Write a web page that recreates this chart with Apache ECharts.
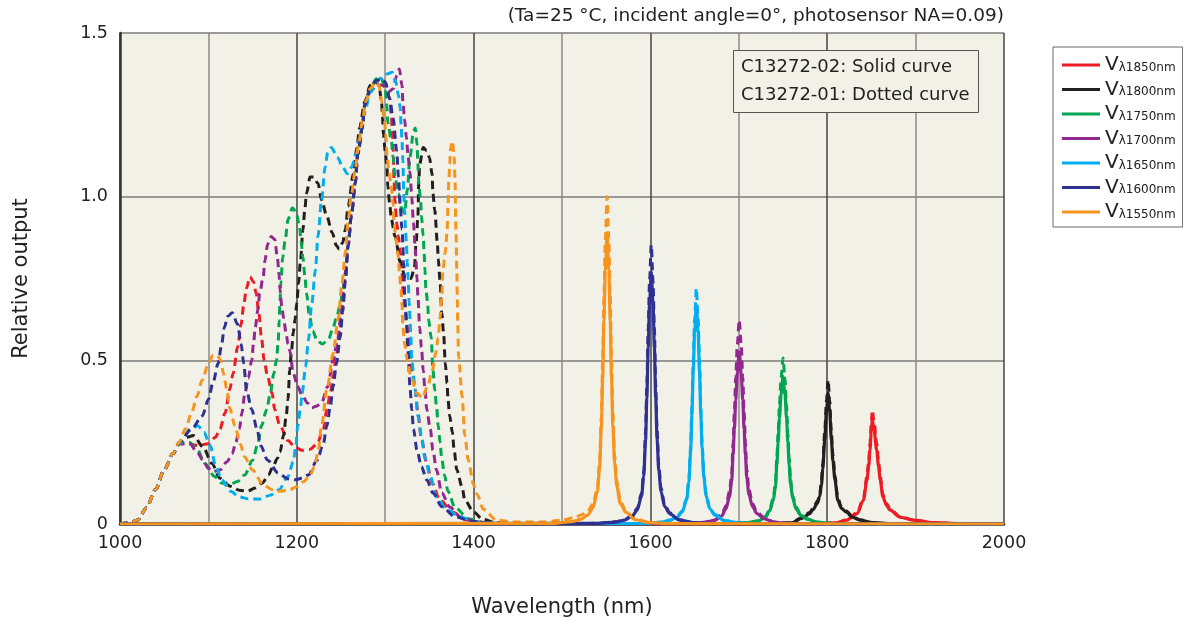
<!DOCTYPE html>
<html>
<head>
<meta charset="utf-8">
<script src="https://cdn.jsdelivr.net/npm/echarts@6/dist/echarts.min.js"></script>
<style>html,body{margin:0;padding:0;background:#fff;}#c{width:1183px;height:625px;}</style>
</head>
<body>
<div id="c"></div>
<script>
const FONT = 'DejaVu Sans';
const names = ['Vλ1850nm','Vλ1800nm','Vλ1750nm','Vλ1700nm','Vλ1650nm','Vλ1600nm','Vλ1550nm'];
const colors = ['#ed1c24','#231f20','#00a651','#92278f','#00aeef','#2e3192','#f7941d'];
const xTicks = [1000,1200,1400,1600,1800,2000];
const yTicks = ['0','0.5','1.0','1.5'];

// C13272-02 (solid curves)
const solid1850 = [[1000,0],[1781,0],[1796,0.001],[1811,0.004],[1822,0.012],[1834,0.032],[1841,0.073],[1845,0.134],[1847,0.178],[1848.4,0.226],[1849.8,0.28],[1851,0.318],[1853,0.286],[1856,0.226],[1858,0.178],[1860,0.134],[1863,0.083],[1867,0.057],[1871,0.043],[1882,0.021],[1897,0.012],[1920,0.004],[1951,0.001],[2000,0]];
const solid1800 = [[1000,0],[1741,0.001],[1759,0.003],[1772,0.018],[1780,0.032],[1784,0.044],[1789,0.064],[1791.6,0.084],[1793.5,0.12],[1795,0.168],[1797.2,0.256],[1799.2,0.344],[1801,0.4],[1802.8,0.344],[1804.7,0.256],[1806.5,0.192],[1808.7,0.136],[1812,0.072],[1816,0.048],[1821.7,0.036],[1829,0.02],[1837,0.012],[1851,0.004],[1871,0.001],[2000,0]];
const solid1750 = [[1000,0],[1690,0.001],[1710,0.004],[1722,0.009],[1730,0.02],[1735,0.041],[1739,0.072],[1741.5,0.113],[1743,0.18],[1744.5,0.248],[1746,0.324],[1747.8,0.396],[1750,0.45],[1752.2,0.396],[1754,0.324],[1755.5,0.248],[1757,0.18],[1758.5,0.122],[1761,0.077],[1765,0.045],[1770,0.027],[1778,0.014],[1790,0.005],[1810,0.001],[2000,0]];
const solid1700 = [[1000,0],[1640.5,0.001],[1660.5,0.004],[1672.5,0.011],[1680.5,0.024],[1685.5,0.047],[1689.5,0.084],[1692,0.131],[1693.5,0.21],[1695,0.289],[1696.5,0.378],[1698.3,0.462],[1700.5,0.525],[1702.7,0.462],[1704.5,0.378],[1706,0.289],[1707.5,0.21],[1709,0.142],[1711.5,0.089],[1715.5,0.053],[1720.5,0.032],[1728.5,0.016],[1740.5,0.005],[1760.5,0.001],[2000,0]];
const solid1650 = [[1000,0],[1592,0.001],[1612,0.005],[1622,0.011],[1630,0.02],[1636,0.037],[1641,0.074],[1643.5,0.127],[1645.5,0.221],[1647,0.335],[1648.5,0.469],[1650,0.583],[1652,0.67],[1654,0.583],[1655.5,0.469],[1657,0.335],[1658.5,0.228],[1660.5,0.141],[1663,0.087],[1667,0.047],[1673,0.027],[1684,0.01],[1700,0.003],[1722,0.001],[2000,0]];
const solid1600 = [[1000,0],[1541,0.002],[1561,0.006],[1571,0.012],[1579,0.023],[1585,0.042],[1590,0.085],[1592.5,0.146],[1594.5,0.254],[1596,0.385],[1597.5,0.539],[1599,0.67],[1601,0.77],[1603,0.67],[1604.5,0.539],[1606,0.385],[1607.5,0.262],[1609.5,0.162],[1612,0.1],[1616,0.054],[1622,0.031],[1633,0.012],[1649,0.004],[1671,0.001],[2000,0]];
const solid1550 = [[1000,0],[1491,0.002],[1511,0.007],[1521,0.014],[1529,0.027],[1535,0.049],[1540,0.098],[1542.5,0.169],[1544.5,0.294],[1546,0.445],[1547.5,0.623],[1549,0.774],[1551,0.89],[1553,0.774],[1554.5,0.623],[1556,0.445],[1557.5,0.303],[1559.5,0.187],[1562,0.116],[1566,0.062],[1572,0.036],[1583,0.013],[1599,0.004],[1621,0.001],[2000,0]];

// C13272-01 (dotted curves)
const dotted1850 = [[1000,0],[1010,0.003],[1020,0.012],[1030,0.05],[1040,0.105],[1050,0.165],[1060,0.215],[1067,0.245],[1078,0.245],[1088,0.24],[1100,0.245],[1108,0.265],[1113,0.29],[1119,0.34],[1124,0.41],[1128,0.46],[1133,0.54],[1137,0.61],[1140,0.67],[1143,0.72],[1147,0.755],[1151,0.74],[1154,0.705],[1157,0.645],[1160,0.57],[1163,0.5],[1167,0.45],[1172,0.4],[1175,0.35],[1181,0.3],[1190,0.255],[1198,0.235],[1206,0.225],[1215,0.228],[1223,0.245],[1230,0.29],[1234,0.35],[1238,0.4],[1241,0.45],[1245,0.52],[1249,0.6],[1252,0.67],[1255,0.75],[1258,0.85],[1262,0.95],[1266,1.04],[1269,1.13],[1274,1.21],[1277,1.28],[1283,1.33],[1290,1.355],[1296,1.36],[1300,1.35],[1305,1.3],[1307,1.245],[1308,1.2],[1309,1.15],[1310,1.05],[1311,0.99],[1313,0.92],[1315,0.88],[1317,0.83],[1319,0.77],[1320,0.715],[1323,0.65],[1326,0.58],[1328,0.52],[1330,0.47],[1334,0.41],[1337,0.34],[1341,0.257],[1347,0.186],[1353,0.125],[1362,0.073],[1376,0.037],[1392,0.012],[1410,0.004],[1440,0],[1781,0],[1796,0.001],[1811,0.004],[1822,0.013],[1834,0.035],[1841,0.08],[1845,0.146],[1847,0.195],[1848.4,0.247],[1849.8,0.306],[1851,0.348],[1853,0.313],[1856,0.247],[1858,0.195],[1860,0.146],[1863,0.09],[1867,0.063],[1871,0.047],[1882,0.023],[1897,0.013],[1920,0.004],[1951,0.001],[2000,0]];
const dotted1800 = [[1000,0],[1010,0.003],[1020,0.012],[1030,0.05],[1040,0.105],[1050,0.165],[1060,0.215],[1067,0.245],[1076,0.265],[1083,0.27],[1094,0.235],[1104,0.185],[1113,0.14],[1125,0.115],[1135,0.103],[1144,0.1],[1153,0.11],[1161,0.125],[1168,0.15],[1173,0.175],[1178,0.2],[1181,0.22],[1185,0.27],[1188,0.33],[1190,0.38],[1192,0.47],[1194,0.53],[1196,0.585],[1198,0.625],[1200,0.675],[1202,0.735],[1204,0.8],[1207,0.9],[1209,0.96],[1211,1.01],[1215,1.06],[1219,1.06],[1224,1.04],[1228,0.99],[1234,0.94],[1240,0.89],[1245,0.85],[1248,0.84],[1252,0.86],[1255,0.9],[1258,0.97],[1264,1.07],[1268,1.15],[1271,1.21],[1277,1.29],[1283,1.34],[1289,1.355],[1293,1.34],[1296,1.285],[1297,1.24],[1298,1.19],[1300,1.14],[1302,1.09],[1303,1.03],[1305,0.98],[1307,0.93],[1311,0.88],[1317,0.8],[1323,0.75],[1329,0.75],[1333,0.78],[1335,0.86],[1337,0.94],[1338,1.045],[1339,1.1],[1343,1.15],[1347,1.14],[1350,1.12],[1353,1.07],[1354,1.01],[1356,0.96],[1359,0.86],[1360,0.81],[1362,0.745],[1364,0.645],[1366,0.585],[1368,0.49],[1370,0.43],[1371,0.38],[1373,0.33],[1376,0.28],[1378,0.225],[1381,0.165],[1387,0.113],[1390,0.073],[1400,0.037],[1410,0.015],[1425,0.004],[1450,0],[1741,0.001],[1759,0.004],[1772,0.02],[1780,0.035],[1784,0.048],[1789,0.07],[1791.6,0.092],[1793.5,0.132],[1795,0.185],[1797.2,0.282],[1799.2,0.378],[1801,0.44],[1802.8,0.378],[1804.7,0.282],[1806.5,0.211],[1808.7,0.15],[1812,0.079],[1816,0.053],[1821.7,0.04],[1829,0.022],[1837,0.013],[1851,0.004],[1871,0.001],[1950,0],[2000,0]];
const dotted1750 = [[1000,0],[1010,0.003],[1020,0.012],[1030,0.05],[1040,0.105],[1050,0.165],[1060,0.215],[1067,0.245],[1078,0.25],[1087,0.23],[1096,0.185],[1107,0.145],[1115,0.125],[1124,0.12],[1133,0.13],[1141,0.15],[1150,0.195],[1156,0.245],[1160,0.3],[1166,0.35],[1170,0.4],[1174,0.46],[1177,0.5],[1179,0.56],[1180,0.62],[1181,0.68],[1182,0.74],[1184,0.815],[1187,0.87],[1190,0.93],[1195,0.965],[1199,0.955],[1203,0.91],[1205,0.86],[1207,0.815],[1209,0.76],[1211,0.705],[1214,0.64],[1218,0.59],[1223,0.56],[1229,0.55],[1236,0.565],[1241,0.6],[1245,0.63],[1249,0.67],[1252,0.71],[1255,0.77],[1258,0.85],[1262,0.95],[1266,1.04],[1269,1.13],[1274,1.21],[1277,1.285],[1283,1.33],[1290,1.36],[1295,1.365],[1300,1.33],[1302,1.275],[1303,1.225],[1307,1.17],[1309,1.12],[1311,1.06],[1315,1.01],[1319,0.96],[1322,0.95],[1325,1.02],[1328,1.12],[1332,1.2],[1334,1.21],[1336,1.16],[1337,1.1],[1338,1.04],[1340,0.99],[1341,0.94],[1343,0.88],[1344,0.83],[1345,0.775],[1346,0.72],[1348,0.675],[1349,0.625],[1352,0.57],[1354,0.47],[1356,0.41],[1358,0.36],[1360,0.3],[1362,0.25],[1364,0.2],[1367,0.15],[1371,0.1],[1379,0.05],[1395,0.015],[1415,0.003],[1440,0],[1690,0.001],[1710,0.004],[1722,0.01],[1730,0.023],[1735,0.046],[1739,0.081],[1741.5,0.127],[1743,0.203],[1744.5,0.279],[1746,0.365],[1747.8,0.446],[1750,0.507],[1752.2,0.446],[1754,0.365],[1755.5,0.279],[1757,0.203],[1758.5,0.137],[1761,0.086],[1765,0.051],[1770,0.03],[1778,0.015],[1790,0.005],[1810,0.001],[1900,0],[2000,0]];
const dotted1700 = [[1000,0],[1010,0.003],[1020,0.012],[1030,0.05],[1040,0.105],[1050,0.165],[1060,0.215],[1067,0.245],[1079,0.245],[1087,0.22],[1094,0.195],[1100,0.17],[1105,0.16],[1113,0.165],[1121,0.19],[1127,0.215],[1131,0.25],[1135,0.29],[1138,0.34],[1141,0.395],[1145,0.445],[1149,0.5],[1151,0.55],[1153,0.6],[1156,0.655],[1158,0.705],[1162,0.755],[1164,0.805],[1167,0.855],[1171,0.878],[1175,0.87],[1178,0.815],[1180,0.76],[1181,0.715],[1183,0.665],[1185,0.63],[1188,0.58],[1190,0.55],[1192,0.53],[1196,0.46],[1201,0.42],[1206,0.395],[1212,0.37],[1217,0.355],[1222,0.36],[1228,0.37],[1235,0.42],[1241,0.5],[1246,0.56],[1250,0.64],[1254,0.745],[1258,0.85],[1262,0.95],[1266,1.04],[1269,1.13],[1274,1.21],[1277,1.28],[1283,1.32],[1290,1.34],[1297,1.34],[1304,1.32],[1309,1.33],[1313,1.37],[1316,1.39],[1319,1.34],[1320,1.29],[1322,1.235],[1324,1.18],[1326,1.12],[1328,1.075],[1330,1.0],[1332,0.92],[1334,0.84],[1336,0.75],[1337,0.695],[1339,0.6],[1341,0.54],[1343,0.47],[1345,0.41],[1347,0.35],[1351,0.29],[1354,0.225],[1358,0.165],[1364,0.095],[1373,0.052],[1385,0.022],[1400,0.008],[1420,0.002],[1450,0],[1640.5,0.001],[1660.5,0.005],[1672.5,0.012],[1680.5,0.028],[1685.5,0.056],[1689.5,0.1],[1692,0.156],[1693.5,0.249],[1695,0.343],[1696.5,0.449],[1698.3,0.548],[1700.5,0.623],[1702.7,0.548],[1704.5,0.449],[1706,0.343],[1707.5,0.249],[1709,0.168],[1711.5,0.106],[1715.5,0.062],[1720.5,0.037],[1728.5,0.019],[1740.5,0.006],[1760.5,0.001],[1850,0],[2000,0]];
const dotted1650 = [[1000,0],[1010,0.003],[1020,0.012],[1030,0.05],[1040,0.105],[1050,0.165],[1060,0.215],[1067,0.245],[1080,0.29],[1088,0.3],[1095,0.28],[1102,0.24],[1108,0.18],[1115,0.135],[1125,0.1],[1135,0.083],[1145,0.077],[1158,0.076],[1170,0.088],[1180,0.105],[1190,0.145],[1196,0.19],[1199,0.24],[1201,0.3],[1204,0.35],[1206,0.4],[1210,0.48],[1213,0.56],[1217,0.675],[1221,0.775],[1224,0.88],[1228,0.99],[1232,1.09],[1235,1.135],[1239,1.15],[1246,1.12],[1252,1.09],[1257,1.07],[1262,1.09],[1267,1.13],[1271,1.18],[1277,1.26],[1283,1.32],[1294,1.36],[1302,1.375],[1308,1.38],[1312,1.35],[1315,1.31],[1317,1.27],[1318,1.22],[1319,1.17],[1320,1.11],[1321,1.01],[1322,0.96],[1323,0.9],[1324,0.85],[1325,0.8],[1326,0.75],[1327,0.68],[1329,0.58],[1330,0.5],[1334,0.41],[1337,0.33],[1341,0.27],[1345,0.2],[1351,0.145],[1358,0.083],[1370,0.043],[1385,0.021],[1404,0.006],[1430,0.001],[1460,0],[1592,0.001],[1612,0.006],[1622,0.012],[1630,0.022],[1636,0.04],[1641,0.079],[1643.5,0.137],[1645.5,0.238],[1647,0.36],[1648.5,0.504],[1650,0.626],[1652,0.72],[1654,0.626],[1655.5,0.504],[1657,0.36],[1658.5,0.245],[1660.5,0.151],[1663,0.094],[1667,0.05],[1673,0.029],[1684,0.011],[1700,0.004],[1722,0.001],[1800,0],[2000,0]];
const dotted1600 = [[1000,0],[1010,0.003],[1020,0.012],[1030,0.05],[1040,0.105],[1050,0.165],[1060,0.215],[1067,0.25],[1081,0.29],[1093,0.33],[1100,0.38],[1105,0.43],[1111,0.49],[1115,0.55],[1118,0.6],[1122,0.635],[1127,0.645],[1133,0.61],[1137,0.55],[1140,0.49],[1143,0.41],[1149,0.35],[1155,0.29],[1159,0.24],[1167,0.195],[1179,0.155],[1190,0.138],[1198,0.135],[1206,0.14],[1213,0.15],[1223,0.195],[1230,0.245],[1234,0.3],[1238,0.36],[1241,0.42],[1245,0.49],[1249,0.57],[1252,0.65],[1255,0.745],[1258,0.85],[1262,0.95],[1266,1.04],[1269,1.13],[1274,1.21],[1277,1.28],[1283,1.33],[1290,1.355],[1296,1.36],[1300,1.35],[1305,1.3],[1309,1.24],[1313,1.14],[1315,1.06],[1317,0.97],[1319,0.9],[1321,0.8],[1322,0.7],[1324,0.61],[1326,0.52],[1328,0.42],[1330,0.35],[1332,0.29],[1336,0.225],[1341,0.175],[1347,0.135],[1354,0.095],[1364,0.053],[1379,0.022],[1399,0.008],[1420,0.002],[1450,0],[1541,0.002],[1561,0.007],[1571,0.014],[1579,0.026],[1585,0.047],[1590,0.094],[1592.5,0.162],[1594.5,0.281],[1596,0.427],[1597.5,0.597],[1599,0.742],[1601,0.853],[1603,0.742],[1604.5,0.597],[1606,0.427],[1607.5,0.29],[1609.5,0.179],[1612,0.111],[1616,0.06],[1622,0.034],[1633,0.013],[1649,0.004],[1671,0.001],[1750,0],[2000,0]];
const dotted1550 = [[1000,0],[1010,0.003],[1020,0.012],[1030,0.05],[1040,0.105],[1050,0.165],[1060,0.215],[1067,0.25],[1074,0.29],[1081,0.34],[1087,0.39],[1093,0.44],[1100,0.49],[1105,0.515],[1110,0.515],[1114,0.5],[1117,0.46],[1121,0.41],[1124,0.355],[1130,0.3],[1136,0.245],[1141,0.205],[1150,0.165],[1162,0.12],[1172,0.105],[1181,0.1],[1192,0.105],[1200,0.114],[1208,0.13],[1215,0.15],[1220,0.175],[1224,0.22],[1228,0.3],[1234,0.41],[1241,0.52],[1247,0.63],[1251,0.735],[1255,0.83],[1258,0.93],[1262,1.01],[1266,1.08],[1270,1.16],[1274,1.23],[1278,1.29],[1283,1.33],[1289,1.35],[1293,1.34],[1296,1.29],[1299,1.235],[1301,1.18],[1302,1.13],[1304,1.08],[1307,1.03],[1309,0.975],[1310,0.92],[1312,0.87],[1315,0.815],[1316,0.765],[1318,0.715],[1319,0.665],[1320,0.6],[1322,0.55],[1325,0.5],[1329,0.45],[1336,0.4],[1342,0.385],[1348,0.42],[1353,0.465],[1357,0.52],[1360,0.57],[1362,0.63],[1364,0.69],[1365,0.77],[1368,0.83],[1370,0.89],[1371,0.97],[1372,1.05],[1373,1.1],[1374,1.15],[1376,1.17],[1378,1.12],[1379,1.05],[1380,0.9],[1381,0.78],[1381.5,0.7],[1382,0.62],[1383,0.51],[1387,0.39],[1390,0.27],[1394,0.195],[1400,0.12],[1404,0.09],[1411,0.045],[1426,0.012],[1445,0.006],[1480,0.006],[1500,0.012],[1515,0.02],[1522,0.028],[1529,0.04],[1535,0.06],[1540,0.11],[1542.5,0.19],[1544.5,0.33],[1546,0.5],[1547.5,0.7],[1549,0.87],[1551,1.0],[1553,0.87],[1554.5,0.7],[1556,0.5],[1557.5,0.34],[1559.5,0.21],[1562,0.13],[1566,0.07],[1572,0.04],[1583,0.015],[1599,0.005],[1621,0.001],[1700,0],[2000,0]];

const solidData = [solid1850, solid1800, solid1750, solid1700, solid1650, solid1600, solid1550];
const dottedData = [dotted1850, dotted1800, dotted1750, dotted1700, dotted1650, dotted1600, dotted1550];

const series = [];
dottedData.forEach((d, i) => {
  series.push({
    name: 'C13272-01 ' + names[i], type: 'line', data: d, showSymbol: false,
    smooth: 0.3, smoothMonotone: 'x', silent: true,
    lineStyle: { color: colors[i], width: 3, type: [8, 5] }, z: 2
  });
});
solidData.forEach((d, i) => {
  series.push({
    name: names[i], type: 'line', data: d, showSymbol: false,
    smooth: 0.3, smoothMonotone: 'x', silent: true,
    itemStyle: { color: colors[i] },
    lineStyle: { color: colors[i], width: 3.2 }, z: 3
  });
});

const chart = echarts.init(document.getElementById('c'));
chart.setOption({
  animation: false,
  backgroundColor: '#ffffff',
  textStyle: { fontFamily: FONT },
  title: {
    text: '(Ta=25 °C, incident angle=0°, photosensor NA=0.09)',
    right: 179, top: 7, padding: 0,
    textStyle: { fontSize: 18.5, fontWeight: 'normal', fontFamily: FONT, color: '#222' }
  },
  grid: { left: 120, right: 179, top: 33, bottom: 101, show: true, backgroundColor: '#f2f1e8', borderWidth: 0 },
  xAxis: {
    type: 'value', min: 1000, max: 2000, interval: 100,
    axisLine: { show: true, lineStyle: { color: '#333', width: 2.5 } },
    axisTick: { show: false },
    axisLabel: { fontSize: 17.5, color: '#222', margin: 10, fontFamily: FONT,
      formatter: v => xTicks.indexOf(v) >= 0 ? String(v) : '' },
    splitLine: { show: true, lineStyle: { color: ['#444', '#8a8a8a'], width: 1.5 } },
    name: 'Wavelength (nm)', nameLocation: 'middle', nameGap: 73,
    nameTextStyle: { fontSize: 21, color: '#222', fontFamily: FONT }
  },
  yAxis: {
    type: 'value', min: 0, max: 1.5, interval: 0.5,
    axisLine: { show: true, lineStyle: { color: '#333', width: 2.5 } },
    axisTick: { show: false },
    axisLabel: { fontSize: 17.5, color: '#222', margin: 12, fontFamily: FONT,
      formatter: v => yTicks[Math.round(v / 0.5)] },
    splitLine: { show: true, lineStyle: { color: '#7a7a7a', width: 1.5 } },
    name: 'Relative output', nameLocation: 'middle', nameGap: 88,
    nameTextStyle: { fontSize: 21, color: '#222', fontFamily: FONT }
  },
  legend: {
    data: names, orient: 'vertical', left: 1053, top: 47,
    padding: [8, 7, 5, 9], itemGap: 4.5, itemWidth: 38, itemHeight: 3, icon: 'rect',
    borderColor: '#666', borderWidth: 1, backgroundColor: '#fff', selectedMode: false,
    formatter: n => '{v|V}{s|' + n.slice(1) + '}',
    textStyle: {
      color: '#222', fontFamily: FONT, padding: [0, 0, 0, 0],
      rich: {
        v: { fontSize: 20, fontFamily: FONT, color: '#222', lineHeight: 23.5 },
        s: { fontSize: 12, fontFamily: FONT, color: '#222', lineHeight: 23.5, padding: [5, 0, 0, 0] }
      }
    }
  },
  graphic: [
    { type: 'rect', shape: { x: 733.5, y: 50.5, width: 245, height: 62 },
      style: { fill: '#f2f1e8', stroke: '#555', lineWidth: 1 }, z: 10 },
    { type: 'text', x: 741, y: 67, z: 11,
      style: { text: 'C13272-02: Solid curve', font: '18px "DejaVu Sans"', fill: '#222', verticalAlign: 'middle', align: 'left' } },
    { type: 'text', x: 741, y: 95, z: 11,
      style: { text: 'C13272-01: Dotted curve', font: '18px "DejaVu Sans"', fill: '#222', verticalAlign: 'middle', align: 'left' } }
  ],
  series: series
});
</script>
</body>
</html>
